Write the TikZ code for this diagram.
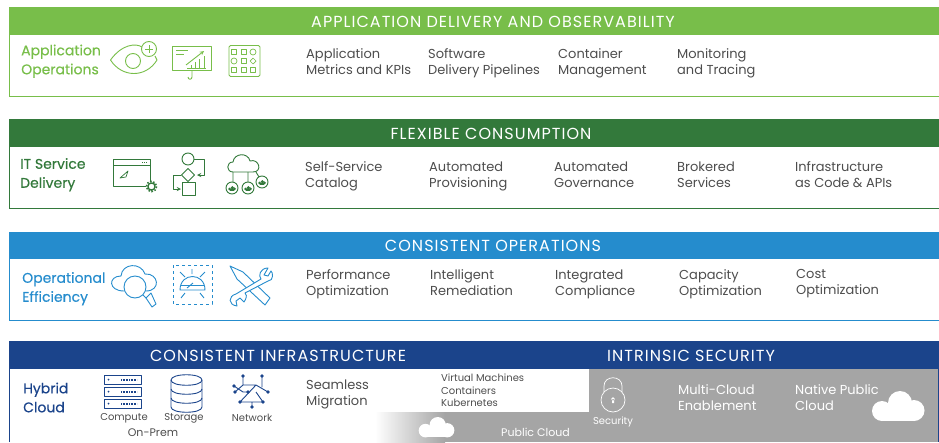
\documentclass[tikz,border=0pt]{standalone}
\usepackage{fontspec}
\setmainfont{Poppins}
\newfontfamily\catfont[FakeBold=0.35]{Poppins}
\newfontfamily\bandfont[LetterSpace=6.5]{Poppins}
\definecolor{appgreen}{HTML}{78BE4A}
\definecolor{itgreen}{HTML}{33793B}
\definecolor{opblue}{HTML}{258CCD}
\definecolor{hybnavy}{HTML}{1B448B}
\definecolor{bodygray}{HTML}{4D4D4D}
\definecolor{secgray}{HTML}{A5A5A5}
\tikzset{
  struts/.style={yshift=-2.8pt, execute at begin node=\strut, execute at end node=\strut},
  bandtitle/.style={text=white, inner sep=0pt, font=\bandfont\fontsize{16}{19}\selectfont},
  catlabel/.style={struts, anchor=west, align=left, inner sep=0pt, font=\catfont\fontsize{14}{19}\selectfont},
  itemtext/.style={struts, anchor=west, align=left, inner sep=0pt, text=bodygray, font=\fontsize{13}{16}\selectfont},
  stacktext/.style={struts, anchor=west, align=left, inner sep=0pt, text=bodygray, font=\fontsize{10}{12.5}\selectfont},
  smalltext/.style={inner sep=0pt, text=bodygray, font=\fontsize{10}{12}\selectfont},
  sectext/.style={struts, anchor=west, align=left, inner sep=0pt, text=white, font=\fontsize{13}{16}\selectfont},
  icon/.style={line width=0.9pt, line join=round},
  solidcloud/.pic={
    \path[pic actions] (11,20) circle (10);
    \path[pic actions] (29,12) circle (12);
    \path[pic actions] (43,19.5) circle (10.5);
    \path[pic actions] (11,18) rectangle (43,30);
  },
  outlinecloud/.pic={
    \path[pic actions] (5,17) .. controls (-2,17) and (-2,7) .. (5,7) .. controls (6,-2) and (20,-3) .. (22,6) .. controls (31,3) and (35,17) .. (25,17) -- cycle;
  }
}
\begin{document}
\begin{tikzpicture}[x=1pt, y=-1pt]
  \useasboundingbox (0,0) rectangle (939,442);
  % Application operations band
  \draw[appgreen, line width=1pt] (9.5,7.5) rectangle (945,96);
  \fill[appgreen] (9,7) rectangle (939,35);
  \node[bandtitle] (apphead) at (493,21.5) {APPLICATION DELIVERY AND OBSERVABILITY};
  \node[catlabel, text=appgreen] (appcat) at (21,59.5) {Application\\Operations};
  \foreach \nm/\xpos/\txt in {a/306/{Application\\Metrics and KPIs}, b/428/{Software\\Delivery Pipelines}, c/558/{Container\\Management}, d/677/{Monitoring\\and Tracing}}
    \node[itemtext] (app\nm) at (\xpos,61) {\txt};
  \begin{scope}[icon, draw=appgreen]
    \draw (110.5,60) .. controls (122,44) and (136,43) .. (142,47);
    \draw (110.5,60) .. controls (122,78) and (146,78) .. (157,60) -- (155,56);
    \draw (133,61) circle (7.5);
    \draw (149,49) circle (7.5);
    \draw (145,49) -- (153,49) (149,45) -- (149,53);
    \draw (172.5,46) rectangle (211,70);
    \draw (176,50) -- (188,50) (176,54) -- (184,54);
    \draw[-stealth] (186,65) -- (204,51);
    \draw[line width=0.6pt] (187,68) -- (206,68) (191,68) -- (191,65) (195,68) -- (195,62) (199,68) -- (199,59) (204,68) -- (204,56);
    \draw (192,70) -- (192,77) .. controls (192,80) and (188,80) .. (188,77);
    \draw[rounded corners=1.5pt] (229,45.5) rectangle (260,76.5);
    \foreach \gx/\gy in {234/52, 244/52, 234/70, 244/70, 253/70, 244/61}
      \draw[line width=0.7pt] (\gx-2.8,\gy-2.8) rectangle (\gx+2.8,\gy+2.8);
    \draw[line width=0.7pt] (253,52) circle (3) (234,61) circle (3);
    \draw[line width=0.7pt] (253,58) -- (256,61) -- (253,64) -- (250,61) -- cycle;
  \end{scope}
  % IT service delivery band
  \draw[itgreen, line width=1pt] (9.5,119.5) rectangle (945,208);
  \fill[itgreen] (9,119) rectangle (939,147);
  \node[bandtitle] (ithead) at (491,133.5) {FLEXIBLE CONSUMPTION};
  \node[catlabel, text=itgreen] (itcat) at (20,173) {IT Service\\Delivery};
  \foreach \nm/\xpos/\txt in {a/305/{Self-Service\\Catalog}, b/429/{Automated\\Provisioning}, c/554/{Automated\\Governance}, d/677/{Brokered\\Services}, e/795/{Infrastructure\\as Code \& APIs}}
    \node[itemtext] (it\nm) at (\xpos,174) {\txt};
  \begin{scope}[icon, draw=itgreen]
    \draw (146,186) -- (113,186) -- (113,159) -- (150,159) -- (150,181);
    \draw (113,165) -- (150,165);
    \draw[line width=0.7pt, dash pattern=on 1pt off 1pt] (142,162) -- (148,162);
    \draw[line width=0.7pt] (120,178) -- (128,171) -- (126,177) -- cycle;
    \draw[line width=1.4pt] (151.5,186.5) circle (3.6);
    \draw[line width=1.5pt, dash pattern=on 1.6pt off 1.6pt] (151.5,186.5) circle (5.2);
    \draw (188,159) circle (6);
    \draw (188,168.5) -- (194.5,175) -- (188,181.5) -- (181.5,175) -- cycle;
    \draw (182,182) rectangle (195,195);
    \draw[-stealth] (194,159) -- (204,159) -- (204,175) -- (197,175);
    \draw[-stealth] (181,175) -- (173,175) -- (173,189) -- (181,189);
    \pic[draw=itgreen] at (228,155) {outlinecloud};
    \draw (233,172) -- (233,182) (248,172) -- (248,182) (256,172) -- (259,177);
    \foreach \cx/\cy in {232/188, 248/188, 262/182} {
      \draw (\cx,\cy) circle (6);
      \pic[fill=itgreen, scale=0.15] at (\cx-4,\cy-2) {solidcloud};
    }
  \end{scope}
  % Operational efficiency band
  \draw[opblue, line width=1pt] (9.5,232.5) rectangle (945,320);
  \fill[opblue] (9,232) rectangle (939,259);
  \node[bandtitle] (ophead) at (493,245.5) {CONSISTENT OPERATIONS};
  \node[catlabel, text=opblue] (opcat) at (22,287) {Operational\\Efficiency};
  \foreach \nm/\xpos/\txt in {a/306/{Performance\\Optimization}, b/430/{Intelligent\\Remediation}, c/555/{Integrated\\Compliance}, d/679/{Capacity\\Optimization}, e/796/{Cost\\Optimization}}
    \node[itemtext] (op\nm) at (\xpos,282) {\txt};
  \begin{scope}[icon, draw=opblue]
    \draw (124,291) .. controls (108,291) and (108,276) .. (121,276) .. controls (122,263) and (141,262) .. (145,274) .. controls (159,273) and (161,291) .. (146,291);
    \draw[fill=white] (135,287) circle (11);
    \draw (143,295) -- (146,298);
    \draw (146,298) -- (151,293) -- (156,304) -- (152,307) -- cycle;
    \draw[dashed] (173,265) rectangle (212,304);
    \draw (180,290) .. controls (180,272) and (205,272) .. (205,290) -- cycle;
    \draw (181,285) -- (204,285);
    \draw (193,283) -- (187,288);
    \draw (180,272) -- (185,277) (205,272) -- (200,277) (192,269) -- (192,274) (181,298) -- (185,293) (204,298) -- (200,293);
    \draw (230,266) -- (243,272) -- (270,298) -- (265,305) -- (237,279) -- cycle;
    \draw[fill=white] (268,268) .. controls (260,268) and (258,276) .. (261,279) -- (236,294) .. controls (228,296) and (228,305) .. (237,306) -- (236,301) -- (240,298) -- (244,302) .. controls (248,296) and (246,294) .. (245,293) -- (268,281) .. controls (274,281) and (273,272) .. (271,271) -- (268,276) -- (264,275) -- cycle;
  \end{scope}
  % Hybrid cloud band
  \fill[secgray] (589,368) rectangle (939,442);
  \shade[left color=white, right color=secgray, shading angle=90] (375,412) rectangle (445,442);
  \fill[secgray] (445,412) rectangle (589,442);
  \draw[hybnavy, line width=1pt] (9.5,442) -- (9.5,341.5) -- (938.5,341.5) -- (938.5,442);
  \fill[hybnavy] (9,341) rectangle (939,368.5);
  \node[bandtitle] (infrahead) at (278,355.5) {CONSISTENT INFRASTRUCTURE};
  \node[bandtitle] (sechead) at (691,355.5) {INTRINSIC SECURITY};
  \node[catlabel, text=hybnavy] (hybcat) at (23,397.5) {Hybrid\\Cloud};
  \begin{scope}[icon, draw=hybnavy]
    \foreach \sy in {375,387,399} {
      \draw (104.5,\sy) rectangle (141,\sy+9);
      \fill[hybnavy] (108.5,\sy+4.5) circle (1);
      \draw[line width=2pt, dash pattern=on 1pt off 0.6pt] (121,\sy+4.5) -- (137,\sy+4.5);
    }
    \draw (171,380) .. controls (171,373) and (202,373) .. (202,380) -- (202,407) .. controls (202,414) and (171,414) .. (171,407) -- cycle;
    \draw (171,380) .. controls (171,387) and (202,387) .. (202,380);
    \draw (171,389) .. controls (171,396) and (202,396) .. (202,389);
    \draw (171,398) .. controls (171,405) and (202,405) .. (202,398);
    \draw (243,376) -- (243,385) -- (256,385) -- (268,392) (262,376) -- (262,387) (234,386) -- (243,392) -- (248,392) (235,392) -- (243,385) (240,402) -- (263,402) (252,402) -- (252,407) (240,402) -- (256,385) (263,402) -- (256,392);
    \foreach \nx/\ny in {243/376, 262/376, 234/386, 235/392, 248/392, 268/392, 240/402, 263/402, 252/407}
      \fill[hybnavy] (\nx,\ny) circle (1.8);
  \end{scope}
  \node[smalltext] (compute) at (124,418) {Compute};
  \node[smalltext] (storage) at (184,418) {Storage};
  \node[smalltext] (network) at (252,418) {Network};
  \node[smalltext, font=\fontsize{11}{13}\selectfont] (onprem) at (153,433) {On-Prem};
  \node[itemtext] (migration) at (306,392) {Seamless\\Migration};
  \node[stacktext] (stack) at (441,389.5) {Virtual Machines\\Containers\\Kubernetes};
  \pic[fill=white, scale=0.68] at (418,417) {solidcloud};
  \node[sectext, font=\fontsize{11}{13}\selectfont] (pubcloud) at (501,431.5) {Public Cloud};
  \draw[white, line width=0.7pt] (613,400) circle (12);
  \draw[white, line width=0.7pt] (604,392) -- (604,386) .. controls (604,375) and (622,375) .. (622,386) -- (622,392);
  \fill[white] (613,399) circle (1.8) (612,399) rectangle (614,403);
  \node[smalltext, text=white] (security) at (613,422) {Security};
  \node[sectext] (multicloud) at (678,397) {Multi-Cloud\\Enablement};
  \node[sectext] (native) at (795,397) {Native Public\\Cloud};
  \pic[fill=white] at (871,391) {solidcloud};
\end{tikzpicture}
\end{document}
